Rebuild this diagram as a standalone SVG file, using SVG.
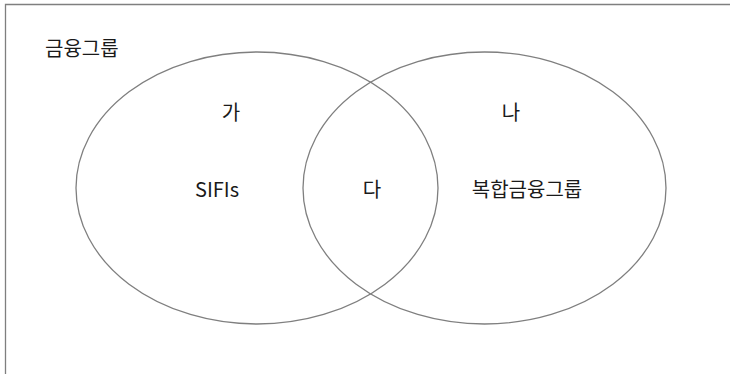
<svg xmlns="http://www.w3.org/2000/svg" width="730" height="374" viewBox="0 0 730 374">
<style>
.t{font-family:"Noto Sans CJK KR","Noto Sans",sans-serif;font-size:20px;fill:#1a1a1a;}
.e{fill:none;stroke:#7f7f7f;stroke-width:1.3;}
.b{fill:none;stroke:#7f7f7f;stroke-width:1.3;}
</style>
<rect width="730" height="374" fill="#fff"/>
<g id="frame"><path class="b" d="M5.5,374 V4.5 H730"/></g>
<text id="group-label" class="t" x="45" y="56">금융그룹</text>
<g id="left"><ellipse class="e" cx="257" cy="188" rx="181" ry="136"/></g>
<g id="right"><ellipse class="e" cx="484.5" cy="188" rx="181.5" ry="136"/></g>
<g id="labels">
<text class="t" x="231" y="120" text-anchor="middle">가</text>
<text class="t" x="511" y="120" text-anchor="middle">나</text>
<text class="t" x="217" y="197" text-anchor="middle">SIFIs</text>
<text class="t" x="372" y="197" text-anchor="middle">다</text>
<text class="t" x="527" y="197" text-anchor="middle">복합금융그룹</text>
</g>
</svg>
